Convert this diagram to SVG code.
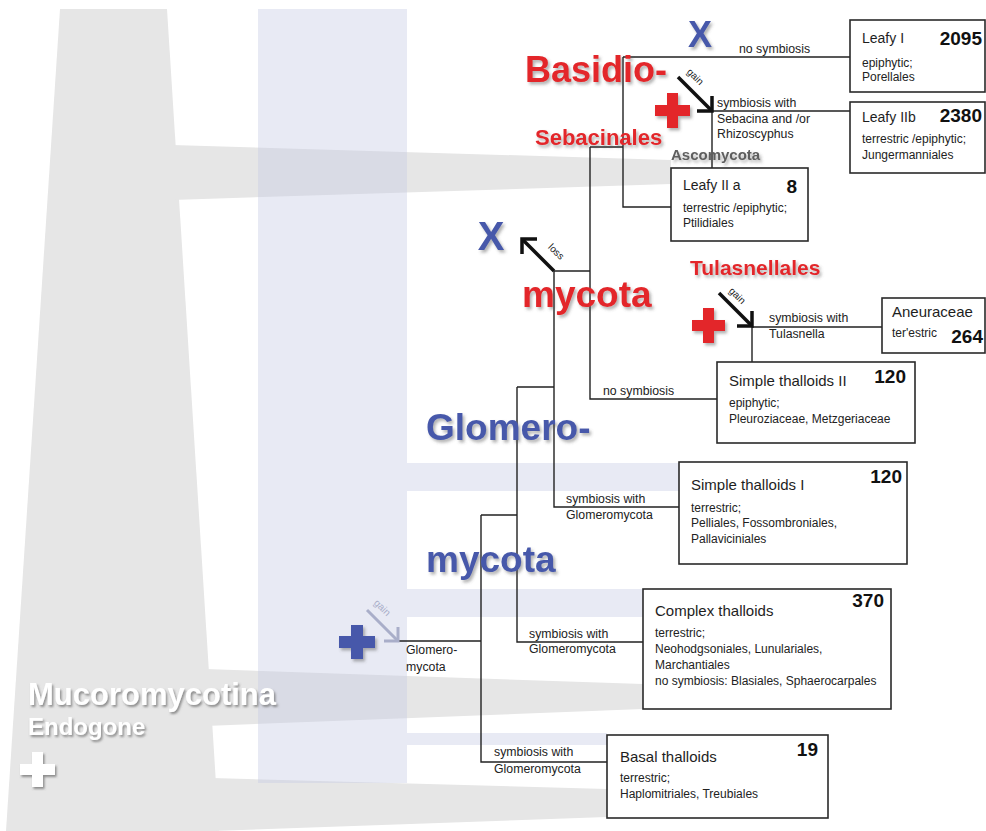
<svg xmlns="http://www.w3.org/2000/svg" width="986" height="831" viewBox="0 0 986 831">
  <style>
    .bg-gray { fill: #e6e6e6; }
    .bg-lav { fill: #c5cae3; fill-opacity: 0.4; }
    .edge { fill: none; stroke: #222; stroke-width: 1.4; }
    .box { fill: #fff; stroke: #2a2a2a; stroke-width: 1.6; }
    .title { font-family: "Liberation Sans", Arial, sans-serif; font-size: 15px; fill: #1e1e1e; }
    .ltitle { font-family: "Liberation Sans", Arial, sans-serif; font-size: 14px; fill: #1e1e1e; }
    .num { font-family: "Liberation Sans", Arial, sans-serif; font-size: 19px; font-weight: bold; fill: #111; text-anchor: end; }
    .sub { font-family: "Liberation Sans", Arial, sans-serif; font-size: 12px; fill: #222; }
    .lab { font-family: "Liberation Sans", Arial, sans-serif; font-size: 12.3px; fill: #222; }
    .tiny { font-family: "Liberation Sans", Arial, sans-serif; font-size: 10px; fill: #222; text-anchor: middle; }
    .big { font-family: "Liberation Sans", Arial, sans-serif; font-weight: bold; }
    .red { fill: #e3282b; }
    .blue { fill: #4759aa; }
    .arrow { fill: none; stroke: #111; stroke-width: 3.5; stroke-linejoin: miter; }
  </style>
  <defs>
    <filter id="shadow" x="-10%" y="-30%" width="130%" height="170%">
      <feDropShadow dx="2" dy="2.5" stdDeviation="1.6" flood-color="#555" flood-opacity="0.45"/>
    </filter>
    <filter id="shadowDark" x="-10%" y="-30%" width="130%" height="170%">
      <feDropShadow dx="1.5" dy="2" stdDeviation="1.2" flood-color="#666" flood-opacity="0.7"/>
    </filter>
  </defs>

  <!-- background lineage ribbons -->
  <g id="ribbons">
    <polygon class="bg-gray" points="60,9 167,9 219,831 6,831"/>
    <polygon class="bg-gray" points="172,145 671,160 671,184 172,200"/>
    <polygon class="bg-gray" points="205,669 643,684 643,709 205,726"/>
    <polygon class="bg-gray" points="212,778 607,789 607,817 212,831"/>
    <path class="bg-lav" d="M258,9 H407 V463 H679 V491 H407 V589 H643 V617 H407 V733 H607 V745 H407 V783 H258 Z"/>
  </g>

  <!-- tree branches -->
  <g id="connectors">
    <path class="edge" d="M398,641 H481 M481,515 V762 H607 M481,515 H517 M517,387 V642 H643 M517,387 H554 M554,271 V507 H679 M554,271 H590 M590,147 V399 H717 M590,147 H623 M623,57 V207 H671 M623,57 H850 M712,111 H850 M712,111 V168 M752,327 H882 M752,327 V362"/>
    <!-- gain / loss arrows -->
    <g id="arrow-gain-sebacinales">
      <line class="arrow" x1="678" y1="77" x2="711" y2="110"/>
      <polyline class="arrow" points="697,111 712,111 712,96"/>
    </g>
    <g id="arrow-loss">
      <line class="arrow" x1="554" y1="271" x2="523" y2="240"/>
      <polyline class="arrow" points="537,239 522,239 522,254"/>
    </g>
    <g id="arrow-gain-tulasnellales">
      <line class="arrow" x1="719" y1="293" x2="751" y2="325"/>
      <polyline class="arrow" points="737,326 752,326 752,311"/>
    </g>
    <g id="arrow-gain-glomero">
      <line class="arrow" style="stroke:#a9aec9;stroke-width:3" x1="367" y1="610" x2="397" y2="640"/>
      <polyline class="arrow" style="stroke:#a9aec9;stroke-width:3" points="384,641 398,641 398,627"/>
    </g>
    <text class="tiny" transform="translate(695,77) rotate(45)" y="3">gain</text>
    <text class="tiny" transform="translate(556,252) rotate(45)" y="3">loss</text>
    <text class="tiny" transform="translate(737,296) rotate(45)" y="3">gain</text>
    <text class="tiny" style="fill:#a9aec9" transform="translate(382,608) rotate(45)" y="3">gain</text>

    <text class="lab" x="739" y="53">no symbiosis</text>
    <text class="lab" x="717" y="107">symbiosis with</text>
    <text class="lab" x="717" y="123">Sebacina and /or</text>
    <text class="lab" x="717" y="138">Rhizoscyphus</text>
    <text class="lab" x="603" y="395">no symbiosis</text>
    <text class="lab" x="769" y="322">symbiosis with</text>
    <text class="lab" x="769" y="338">Tulasnella</text>
    <text class="lab" x="566" y="503">symbiosis with</text>
    <text class="lab" x="566" y="519">Glomeromycota</text>
    <text class="lab" x="529" y="638">symbiosis with</text>
    <text class="lab" x="529" y="653">Glomeromycota</text>
    <text class="lab" x="494" y="756">symbiosis with</text>
    <text class="lab" x="494" y="773">Glomeromycota</text>
    <text class="lab" x="406" y="654">Glomero-</text>
    <text class="lab" x="406" y="671">mycota</text>
  </g>

  <!-- fungal partner labels -->
  <g id="fungi-labels">
    <text class="big" x="28" y="705" font-size="31" fill="#fff" filter="url(#shadowDark)">Mucoromycotina</text>
    <text class="big" x="28" y="735" font-size="24" fill="#fff" filter="url(#shadowDark)">Endogone</text>
    <path d="M32,752 h11 v12 h12 v11 h-12 v12 h-11 v-12 h-12 v-11 h12 Z" fill="#fff" filter="url(#shadowDark)"/>

    <text class="big blue" x="426" y="440" font-size="37" filter="url(#shadow)">Glomero-</text>
    <text class="big blue" x="426" y="572" font-size="37" filter="url(#shadow)">mycota</text>
    <path class="blue" d="M351,625 h12 v11 h12 v12 h-12 v11 h-12 v-11 h-12 v-12 h12 Z" filter="url(#shadow)"/>

    <text class="big red" x="525" y="82" font-size="36" filter="url(#shadow)">Basidio-</text>
    <text class="big red" x="522" y="307" font-size="37" filter="url(#shadow)">mycota</text>
    <text class="big red" x="535" y="145" font-size="22" filter="url(#shadow)">Sebacinales</text>
    <text class="big red" x="690" y="275" font-size="21" filter="url(#shadow)">Tulasnellales</text>
    <text class="big" x="671" y="160" font-size="15" fill="#5e5e5e" filter="url(#shadow)">Ascomycota</text>
    <path class="red" d="M667,93 h11 v12 h12 v11 h-12 v12 h-11 v-12 h-12 v-11 h12 Z" filter="url(#shadow)"/>
    <path class="red" d="M703,308 h11 v12 h11 v11 h-11 v12 h-11 v-12 h-11 v-11 h11 Z" filter="url(#shadow)"/>

    <text class="big blue" x="700" y="47" font-size="36" text-anchor="middle" filter="url(#shadow)">X</text>
    <text class="big blue" x="491" y="250" font-size="40" text-anchor="middle" filter="url(#shadow)">X</text>
  </g>

  <!-- liverwort clades -->
  <g id="leafy-1">
    <rect class="box" x="850" y="20" width="135" height="72"/>
    <text class="ltitle" x="862" y="43">Leafy I</text>
    <text class="num" x="982" y="45">2095</text>
    <text class="sub" x="862" y="67">epiphytic;</text>
    <text class="sub" x="862" y="81">Porellales</text>
  </g>
  <g id="leafy-2b">
    <rect class="box" x="850" y="102" width="135" height="71"/>
    <text class="ltitle" x="862" y="122">Leafy IIb</text>
    <text class="num" x="982" y="122">2380</text>
    <text class="sub" x="862" y="143">terrestric /epiphytic;</text>
    <text class="sub" x="862" y="159">Jungermanniales</text>
  </g>
  <g id="leafy-2a">
    <rect class="box" x="671" y="168" width="137" height="73"/>
    <text class="ltitle" x="683" y="190">Leafy II a</text>
    <text class="num" x="797" y="193">8</text>
    <text class="sub" x="683" y="212">terrestric /epiphytic;</text>
    <text class="sub" x="683" y="227">Ptilidiales</text>
  </g>
  <g id="aneuraceae">
    <rect class="box" x="882" y="298" width="103" height="55"/>
    <text class="title" x="892" y="317" font-size="14.5">Aneuraceae</text>
    <text class="sub" x="892" y="337">ter'estric</text>
    <text class="num" x="983" y="343">264</text>
  </g>
  <g id="simple-thalloids-2">
    <rect class="box" x="717" y="362" width="198" height="81"/>
    <text class="title" x="729" y="386">Simple thalloids II</text>
    <text class="num" x="906" y="383">120</text>
    <text class="sub" x="729" y="407">epiphytic;</text>
    <text class="sub" x="729" y="423">Pleuroziaceae, Metzgeriaceae</text>
  </g>
  <g id="simple-thalloids-1">
    <rect class="box" x="679" y="462" width="228" height="102"/>
    <text class="title" x="691" y="490">Simple thalloids I</text>
    <text class="num" x="902" y="483">120</text>
    <text class="sub" x="691" y="512">terrestric;</text>
    <text class="sub" x="691" y="527">Pelliales, Fossombroniales,</text>
    <text class="sub" x="691" y="543">Pallaviciniales</text>
  </g>
  <g id="complex-thalloids">
    <rect class="box" x="643" y="589" width="248" height="120"/>
    <text class="title" x="655" y="616">Complex thalloids</text>
    <text class="num" x="884" y="607">370</text>
    <text class="sub" x="655" y="637">terrestric;</text>
    <text class="sub" x="655" y="653">Neohodgsoniales, Lunulariales,</text>
    <text class="sub" x="655" y="669">Marchantiales</text>
    <text class="sub" x="655" y="685">no symbiosis: Blasiales, Sphaerocarpales</text>
  </g>
  <g id="basal-thalloids">
    <rect class="box" x="607" y="735" width="221" height="83"/>
    <text class="title" x="620" y="762">Basal thalloids</text>
    <text class="num" x="818" y="756">19</text>
    <text class="sub" x="620" y="782">terrestric;</text>
    <text class="sub" x="620" y="798">Haplomitriales, Treubiales</text>
  </g>
</svg>
